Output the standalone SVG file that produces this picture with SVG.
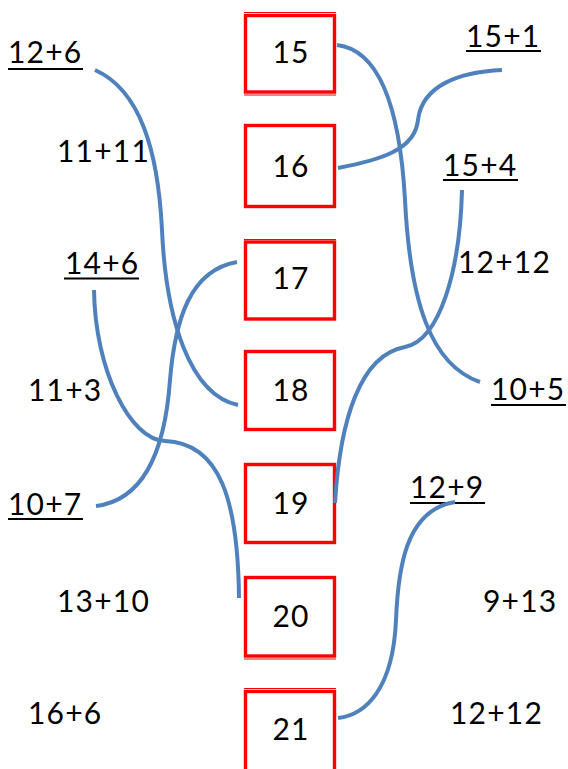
<svg xmlns="http://www.w3.org/2000/svg" width="568" height="769" viewBox="0 0 568 769">
<style>
text{font-family:Lato,"Noto Sans","DejaVu Sans",sans-serif;font-size:30px;letter-spacing:1.2px;fill:#000}
.box{fill:#fff;stroke:#ff0000;stroke-width:3.4}
.thin{stroke:#ff0000;stroke-width:1;fill:none}
.ul{stroke:#000;stroke-width:2}
.c{fill:none;stroke:#4f81bd;stroke-width:4;stroke-linecap:butt}
.m{text-anchor:middle}
</style>
<rect width="568" height="769" fill="#fff"/>
<g id="n15"><rect class="box" x="245.5" y="15.5" width="89" height="76.5"/><line class="thin" x1="244" y1="12.5" x2="336" y2="12.5"/><line class="thin" x1="244" y1="95" x2="336" y2="95"/><text class="m" x="291" y="63">15</text></g>
<g id="n16"><rect class="box" x="245.5" y="125.5" width="89" height="81"/><text class="m" x="291" y="177">16</text></g>
<g id="n17"><rect class="box" x="245.5" y="242" width="89" height="77"/><line class="thin" x1="244" y1="239.5" x2="336" y2="239.5"/><text class="m" x="291" y="289">17</text></g>
<g id="n18"><rect class="box" x="245.5" y="351.5" width="89" height="78"/><text class="m" x="291" y="401">18</text></g>
<g id="n19"><rect class="box" x="245.5" y="464.5" width="89" height="78"/><text class="m" x="291" y="514">19</text></g>
<g id="n20"><rect class="box" x="245.5" y="577.5" width="89" height="78.5"/><line class="thin" x1="244" y1="659" x2="336" y2="659"/><text class="m" x="291" y="627">20</text></g>
<g id="n21"><rect class="box" x="245.5" y="691.5" width="89" height="90"/><line class="thin" x1="244" y1="688.5" x2="336" y2="688.5"/><text class="m" x="291" y="740">21</text></g>

<g id="l-12p6"><text x="8" y="63">12+6</text><line class="ul" x1="8" y1="69" x2="83" y2="69"/></g>
<g id="l-11p11"><text x="57" y="162">11+11</text></g>
<g id="l-14p6"><text x="65" y="274">14+6</text><line class="ul" x1="64" y1="278.5" x2="139" y2="278.5"/></g>
<g id="l-11p3"><text x="28" y="401">11+3</text></g>
<g id="l-10p7"><text x="8" y="515">10+7</text><line class="ul" x1="8" y1="519" x2="83" y2="519"/></g>
<g id="l-13p10"><text x="57" y="612">13+10</text></g>
<g id="l-16p6"><text x="28" y="724">16+6</text></g>
<g id="r-15p1"><text x="466" y="47">15+1</text><line class="ul" x1="466" y1="51" x2="541" y2="51"/></g>
<g id="r-15p4"><text x="443" y="176">15+4</text><line class="ul" x1="443" y1="180" x2="518" y2="180"/></g>
<g id="r-12p12a"><text x="458" y="273">12+12</text></g>
<g id="r-10p5"><text x="491" y="400">10+5</text><line class="ul" x1="491" y1="405" x2="566" y2="405"/></g>
<g id="r-12p9"><text x="410" y="498">12+9</text><line class="ul" x1="410" y1="503" x2="485" y2="503"/></g>
<g id="r-9p13"><text x="483" y="612">9+13</text></g>
<g id="r-12p12b"><text x="450" y="724">12+12</text></g>

<g id="connectors">
<path class="c" d="M95,70 C140,90 158,150 162,230 C166,320 190,395 238,405"/>
<path class="c" d="M337,45 C380,50 400,110 405,200 C410,300 430,365 480,382"/>
<path class="c" d="M338,168 C380,160 415,150 418,120 C422,85 460,72 502,70"/>
<path class="c" d="M237,262 C190,270 175,320 170,380 C165,450 145,500 96,506"/>
<path class="c" d="M462,190 C460,270 440,340 405,347 C360,355 340,420 335,503"/>
<path class="c" d="M94,290 C95,370 130,440 165,441 C220,443 238,500 239,598"/>
<path class="c" d="M455,502 C405,510 398,570 396,620 C393,690 365,715 338,718"/>
</g>
</svg>
